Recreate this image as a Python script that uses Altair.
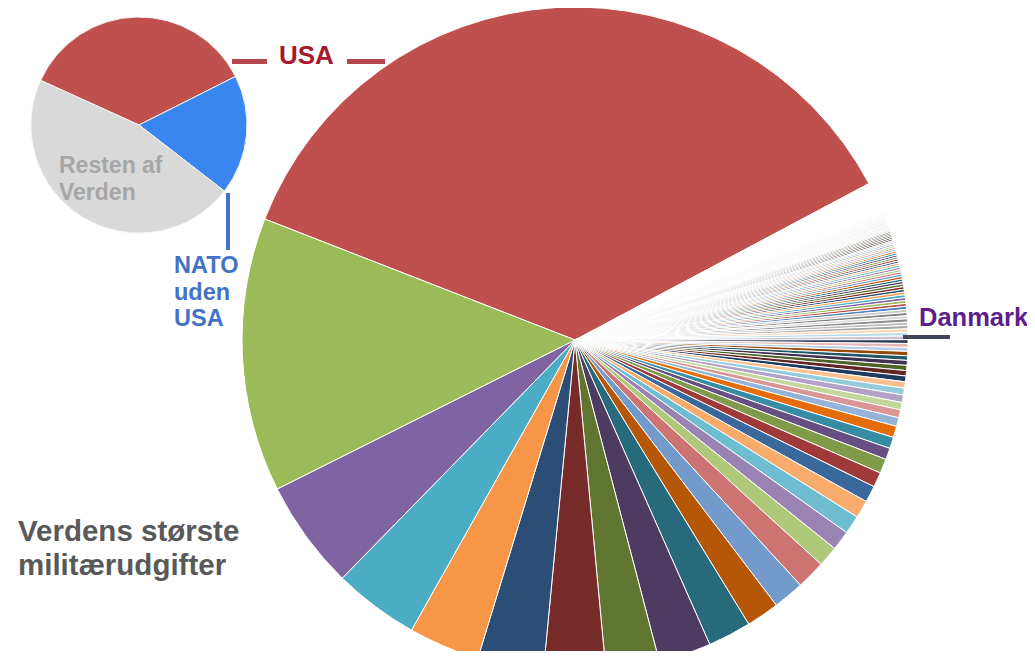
import math
import altair as alt
import pandas as pd

# ---------------- data (shares of world military spending, %) ----------------
usa_share = 36.3
rest_small_share = 1.6  # smallest countries, drawn white
ranked_shares = [
    13.3, 5.3, 4.15, 3.45, 3.2, 3.0, 2.6, 2.55, 2.1, 1.6, 1.5, 1.4,
    1.0, 0.95, 0.9, 0.86, 0.8, 0.72, 0.7, 0.56, 0.55, 0.55,
    0.42, 0.39, 0.36, 0.36, 0.33, 0.31, 0.28, 0.26, 0.25, 0.24, 0.22, 0.21,
    0.19, 0.19, 0.18,
    0.18, 0.17, 0.17, 0.16, 0.16, 0.16, 0.15, 0.15, 0.15, 0.15,
    0.14, 0.14, 0.14, 0.14, 0.13, 0.13, 0.13, 0.13, 0.12, 0.12, 0.12, 0.12,
    0.11, 0.11, 0.11, 0.11, 0.10, 0.10, 0.10, 0.10, 0.10, 0.10,
    0.09, 0.09, 0.09, 0.09, 0.09, 0.08, 0.08, 0.08, 0.08, 0.08,
    0.07, 0.07, 0.07, 0.07, 0.06, 0.06, 0.06, 0.06, 0.05, 0.05, 0.05, 0.05,
    0.04, 0.04, 0.04, 0.04, 0.03, 0.03, 0.03, 0.03, 0.02, 0.02, 0.02, 0.02,
    0.01, 0.01, 0.01, 0.01,
]
danmark_rank_index = 36  # position of Danmark in ranked_shares

inset_labels = ["USA", "NATO uden USA", "Resten af Verden"]
inset_shares = [35.8, 17.9, 46.3]

title_lines = ["Verdens største", "militærudgifter"]
nato_lines = ["NATO", "uden", "USA"]
rest_lines = ["Resten af", "Verden"]

# ---------------- styles ----------------
palette_rows = [
    ["#4F81BD", "#C0504D", "#9BBB59", "#8064A2", "#4BACC6", "#F79646"],
    ["#2C4D75", "#772C2A", "#5F7530", "#4D3B62", "#276A7C", "#B65708"],
    ["#729ACA", "#CD7371", "#AFC97A", "#9983B5", "#6FBDD1", "#F9AB6B"],
    ["#3A679C", "#9E3B38", "#7F9A48", "#664F83", "#358CA3", "#E46C0A"],
    ["#95B3D7", "#D99694", "#C3D69B", "#B3A2C7", "#93CDDD", "#FAC090"],
    ["#1F3A5F", "#632523", "#4F6228", "#3F3151", "#205867", "#984807"],
    ["#B9CDE5", "#E6B9B8", "#D7E4BD", "#CCC1DA", "#B7DEE8", "#FCD5B5"],
    ["#A5A5A5", "#BFBFBF", "#8C8C8C", "#D9D9D9", "#7F7F7F", "#C9C9C9"],
]
usa_color = "#C0504D"
danmark_color = "#2B3856"
inset_colors = ["#C0504D", "#3A86F0", "#D9D9D9"]
FONT = "Liberation Sans"

# ---------------- build table ----------------
ranked_names = [f"Land {i + 2}" for i in range(len(ranked_shares))]
ranked_names[danmark_rank_index] = "Danmark"

ranked_colors = []
for i in range(len(ranked_shares)):
    idx = i + 2
    c = palette_rows[(idx // 6) % len(palette_rows)][idx % 6]
    if ranked_names[i] == "Danmark":
        c = danmark_color
    ranked_colors.append(c)

# clockwise order: USA, smallest countries, then ascending up to the 2nd largest
names = ["USA", "Øvrige"] + ranked_names[::-1]
shares = [usa_share, rest_small_share] + ranked_shares[::-1]
colors = [usa_color, "#FFFFFF"] + ranked_colors[::-1]
big = pd.DataFrame({"land": names, "andel": shares, "pos": list(range(len(names)))})

inset = pd.DataFrame({"gruppe": inset_labels, "andel": inset_shares,
                      "pos": list(range(len(inset_labels)))})

TAU = 2 * math.pi
big_start = math.radians(-68.7)
inset_start = math.radians(-65.6)

OX, OY = 8, 8  # page margin offset

big_pie = alt.Chart(big).mark_arc(radius=333, stroke="#FFFFFF", strokeWidth=1.0).encode(
    theta=alt.Theta("andel:Q", stack=True,
                    scale=alt.Scale(range=[big_start, big_start + TAU])),
    order=alt.Order("pos:Q"),
    color=alt.Color("land:N", scale=alt.Scale(domain=names, range=colors), legend=None),
    x=alt.value(575 - OX),
    y=alt.value(340 - OY),
)

small_pie = alt.Chart(inset).mark_arc(radius=108, stroke="#F4F4F4", strokeWidth=1).encode(
    theta=alt.Theta("andel:Q", stack=True,
                    scale=alt.Scale(range=[inset_start, inset_start + TAU])),
    order=alt.Order("pos:Q"),
    color=alt.Color("gruppe:N", scale=alt.Scale(domain=inset_labels, range=inset_colors),
                    legend=None),
    x=alt.value(139 - OX),
    y=alt.value(125 - OY),
)


def label(text, x, y, size, color, line_height=None):
    kw = dict(align="left", baseline="alphabetic", font=FONT, fontWeight="bold",
              fontSize=size, color=color, text=text)
    if line_height is not None:
        kw["lineHeight"] = line_height
    return alt.Chart(pd.DataFrame({"a": [0]})).mark_text(**kw).encode(
        x=alt.value(x - OX), y=alt.value(y - OY))


def hline(x1, x2, y, color, width):
    return alt.Chart(pd.DataFrame({"a": [0]})).mark_rule(
        color=color, strokeWidth=width).encode(
        x=alt.value(x1 - OX), x2=alt.value(x2 - OX), y=alt.value(y - OY))


def vline(x, y1, y2, color, width):
    return alt.Chart(pd.DataFrame({"a": [0]})).mark_rule(
        color=color, strokeWidth=width).encode(
        x=alt.value(x - OX), y=alt.value(y1 - OY), y2=alt.value(y2 - OY))


layers = [
    big_pie,
    small_pie,
    hline(232, 267, 61.5, "#B5474F", 5),
    hline(347, 385, 61.5, "#B5474F", 5),
    label("USA", 279, 64, 26, "#A6192E"),
    vline(228, 193, 250, "#4472C4", 4),
    label(nato_lines, 174, 273, 23.5, "#4472C4", 26.5),
    label(rest_lines, 59, 173, 23, "#A6A6A6", 26.5),
    hline(903, 950, 337, "#3F4458", 4),
    label("Danmark", 919, 326, 25.5, "#5C1F8C"),
    label(title_lines, 18, 541, 29.5, "#595959", 33.5),
]

chart = alt.layer(*layers).resolve_scale(
    theta="independent", color="independent"
).properties(
    width=1019, height=643, padding=0, autosize=alt.AutoSizeParams(type="none"),
    background="#FFFFFF",
).configure_view(strokeWidth=0)

chart.save("out.html", embed_options={"renderer": "svg", "actions": False})
